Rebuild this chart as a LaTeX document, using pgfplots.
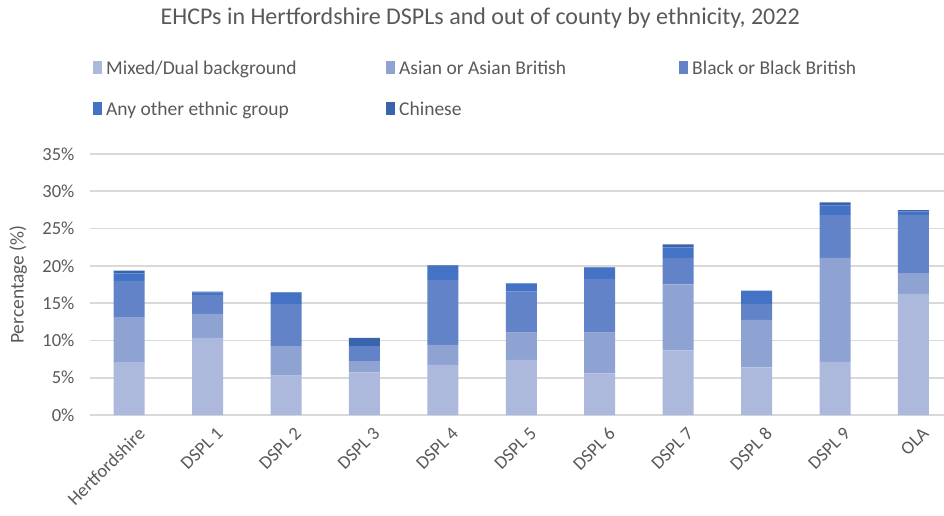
\documentclass[border=0pt]{standalone}
\usepackage{fontspec}
\setmainfont{Carlito}
\usepackage{pgfplots}
\usepackage{pgfplotstable}
\pgfplotsset{compat=1.18}
\definecolor{cmix}{HTML}{ADB9DC}
\definecolor{casian}{HTML}{8FA3D3}
\definecolor{cblack}{HTML}{6383C8}
\definecolor{cother}{HTML}{4472C4}
\definecolor{cchinese}{HTML}{3A63AD}
\definecolor{txt}{HTML}{595959}
\definecolor{gridc}{HTML}{D9D9D9}
\pgfplotstableread{
x mix asian black other chinese
0 7.10 6.04 4.83 1.03 0.36
1 10.33 3.22 2.55 0.30 0.15
2 5.27 3.98 5.63 1.50 0.05
3 5.72 1.52 2.01 0.00 1.08
4 6.71 2.68 8.71 1.90 0.07
5 7.38 3.66 5.50 1.10 0.02
6 5.59 5.45 7.20 1.50 0.06
7 8.67 8.85 3.54 1.43 0.40
8 6.39 6.35 2.15 1.78 0.00
9 7.11 13.95 5.76 1.25 0.45
10 16.23 2.81 7.78 0.50 0.17
}\datatable
\begin{document}
\begin{tikzpicture}[x=1pt,y=1pt]
\useasboundingbox (0,0) rectangle (944,515);
\begin{axis}[
  at={(90pt,100pt)}, anchor=south west,
  scale only axis, width=854pt, height=261pt,
  ybar stacked, bar width=31pt,
  xmin=-0.5, xmax=10.39, ymin=0, ymax=35,
  xtick=data,
  xticklabels={Hertfordshire,DSPL 1,DSPL 2,DSPL 3,DSPL 4,DSPL 5,DSPL 6,DSPL 7,DSPL 8,DSPL 9,OLA},
  x tick label style={rotate=45, anchor=north east, xshift=1pt, yshift=-10pt},
  y tick label style={xshift=-12pt},
  ytick={0,5,...,35},
  yticklabel={\pgfmathprintnumber{\tick}\%},
  /pgf/number format/assume math mode=true,
  ymajorgrids, grid style={draw=gridc, line width=1.6pt},
  axis line style={draw=none},
  major tick length=0pt,
  tick label style={font=\fontsize{18.5}{20}\selectfont, text=txt},
  ylabel={Percentage (\%)},
  ylabel style={font=\fontsize{19.5}{21}\selectfont, text=txt, at={(rel axis cs:-0.084,0.5)}, anchor=center},
  title={EHCPs in Hertfordshire DSPLs and out of county by ethnicity, 2022},
  title style={font=\fontsize{24}{26}\selectfont, text=txt, at={(rel axis cs:0.457,1.497)}, anchor=center},
  legend columns=3,
  legend cell align=left,
  legend style={at={(rel axis cs:0.0,1.373)}, anchor=north west, draw=none, fill=none,
    font=\fontsize{19.5}{21}\selectfont, text=txt,
    /tikz/every odd column/.append style={column sep=2pt},
    row sep=22pt},
  legend image code/.code={\fill[#1] (0pt,-6pt) rectangle (9pt,7pt);},
]
\addplot[fill=cmix, draw=none] table[x=x,y=mix]{\datatable};
\addlegendentry{\makebox[278pt][l]{Mixed/Dual background}}
\addplot[fill=casian, draw=none] table[x=x,y=asian]{\datatable};
\addlegendentry{\makebox[278pt][l]{Asian or Asian British}}
\addplot[fill=cblack, draw=none] table[x=x,y=black]{\datatable};
\addlegendentry{\makebox[200pt][l]{Black or Black British}}
\addplot[fill=cother, draw=none] table[x=x,y=other]{\datatable};
\addlegendentry{\makebox[278pt][l]{Any other ethnic group}}
\addplot[fill=cchinese, draw=none] table[x=x,y=chinese]{\datatable};
\addlegendentry{\makebox[278pt][l]{Chinese}}
\end{axis}
\end{tikzpicture}
\end{document}
